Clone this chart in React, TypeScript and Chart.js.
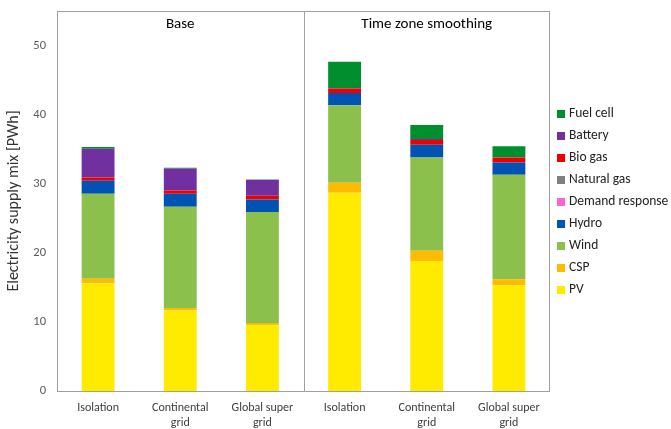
import React, { useEffect, useRef } from "react";
import { Chart, registerables } from "chart.js";

Chart.register(...registerables);

// Scenario categories (two groups of three)
const categories: (string | string[])[] = [
  "Isolation",
  ["Continental", "grid"],
  ["Global super", "grid"],
  "Isolation",
  ["Continental", "grid"],
  ["Global super", "grid"],
];
const groupTitles = ["Base", "Time zone smoothing"];

// Electricity supply by source, PWh (stacked bottom to top)
const pv = [15.6, 11.64, 9.52, 28.7, 18.8, 15.32];
const csp = [0.63, 0.39, 0.34, 1.44, 1.49, 0.87];
const wind = [12.32, 14.64, 16.04, 11.21, 13.51, 15.11];
const hydro = [1.88, 1.88, 1.83, 1.79, 1.85, 1.79];
const demandResponse = [0, 0, 0, 0, 0, 0];
const naturalGas = [0, 0, 0, 0, 0, 0];
const bioGas = [0.48, 0.48, 0.53, 0.63, 0.68, 0.71];
const battery = [4.16, 3.19, 2.32, 0.1, 0.15, 0.05];
const fuelCell = [0.25, 0.1, 0.02, 3.77, 2.02, 1.56];

const yTicks = [0, 10, 20, 30, 40, 50];
const yMax = 55;

const FONT = "Carlito, Lato, 'Open Sans', sans-serif";

const series = [
  { label: "PV", data: pv, color: "#FFEB00" },
  { label: "CSP", data: csp, color: "#FFBB00" },
  { label: "Wind", data: wind, color: "#8BC04C" },
  { label: "Hydro", data: hydro, color: "#0052B4" },
  { label: "Demand response", data: demandResponse, color: "#FF66CC" },
  { label: "Natural gas", data: naturalGas, color: "#808080" },
  { label: "Bio gas", data: bioGas, color: "#EE0000" },
  { label: "Battery", data: battery, color: "#7030A0" },
  { label: "Fuel cell", data: fuelCell, color: "#008F2C" },
];

// Frame, group divider, group titles and the right-hand legend
const decorations = {
  id: "decorations",
  afterDraw(chart: any) {
    const { ctx, chartArea: a, scales } = chart;
    const x = scales.x;
    ctx.save();
    ctx.strokeStyle = "#A0A0A0";
    ctx.lineWidth = 1;
    const l = Math.round(a.left) + 0.5;
    const r = Math.round(a.right) - 0.5;
    const t = Math.round(a.top) + 0.5;
    const b = Math.round(a.bottom) + 0.5;
    ctx.strokeRect(l, t, r - l, b - t);
    const dx = Math.round(x.getPixelForValue(2.5)) + 0.5;
    ctx.beginPath();
    ctx.moveTo(dx, t);
    ctx.lineTo(dx, b);
    ctx.stroke();

    ctx.fillStyle = "#000000";
    ctx.font = `15px ${FONT}`;
    ctx.textAlign = "center";
    ctx.textBaseline = "middle";
    ctx.fillText(groupTitles[0], x.getPixelForValue(1), a.top + 13);
    ctx.fillText(groupTitles[1], x.getPixelForValue(4), a.top + 13);

    // legend, top entry is the top of the stack
    ctx.font = `13.5px ${FONT}`;
    ctx.textAlign = "left";
    const ds = chart.data.datasets;
    const lx = a.right + 7;
    let ly = 114;
    for (let i = ds.length - 1; i >= 0; i--) {
      ctx.fillStyle = ds[i].backgroundColor;
      ctx.fillRect(lx, ly - 4, 8, 8);
      ctx.fillStyle = "#222222";
      ctx.fillText(ds[i].label, lx + 12, ly);
      ly += 22;
    }
    ctx.restore();
  },
};

export default function App() {
  const ref = useRef<HTMLCanvasElement>(null);

  useEffect(() => {
    if (!ref.current) return;
    const chart = new Chart(ref.current, {
      type: "bar",
      data: {
        labels: categories as any,
        datasets: series.map((s) => ({
          label: s.label,
          data: s.data,
          backgroundColor: s.color,
          borderWidth: 0,
          barPercentage: 0.4,
          categoryPercentage: 1,
        })),
      },
      options: {
        responsive: false,
        animation: false,
        devicePixelRatio: 1,
        layout: { padding: { top: 11, right: 121, left: 0, bottom: 0 } },
        plugins: {
          legend: { display: false },
          tooltip: { enabled: false },
        },
        scales: {
          x: {
            stacked: true,
            grid: { display: false, drawTicks: false },
            border: { display: false },
            ticks: {
              color: "#404040",
              font: { family: FONT, size: 12, lineHeight: 1.25 },
              padding: 9,
              maxRotation: 0,
              autoSkip: false,
            },
            afterFit(scale: any) {
              scale.height = 38;
              scale.paddingLeft = 0;
              scale.paddingRight = 0;
            },
          },
          y: {
            stacked: true,
            min: 0,
            max: yMax,
            grid: { display: false, drawTicks: false },
            border: { display: false },
            ticks: {
              stepSize: 10,
              color: "#595959",
              font: { family: FONT, size: 12.5 },
              padding: 11,
            },
            afterBuildTicks(scale: any) {
              scale.ticks = yTicks.map((v) => ({ value: v }));
            },
            title: {
              display: true,
              text: "Electricity supply mix [PWh]",
              color: "#333333",
              font: { family: FONT, size: 16 },
              padding: { top: 4, bottom: 0 },
            },
            afterFit(scale: any) {
              scale.width = 57;
              scale.paddingTop = 0;
              scale.paddingBottom = 0;
            },
          },
        },
      },
      plugins: [decorations],
    });
    return () => chart.destroy();
  }, []);

  return (
    <div
      style={{
        position: "fixed",
        left: 0,
        top: 0,
        width: 671,
        height: 429,
        background: "#ffffff",
      }}
    >
      <canvas ref={ref} width={671} height={429} />
    </div>
  );
}
